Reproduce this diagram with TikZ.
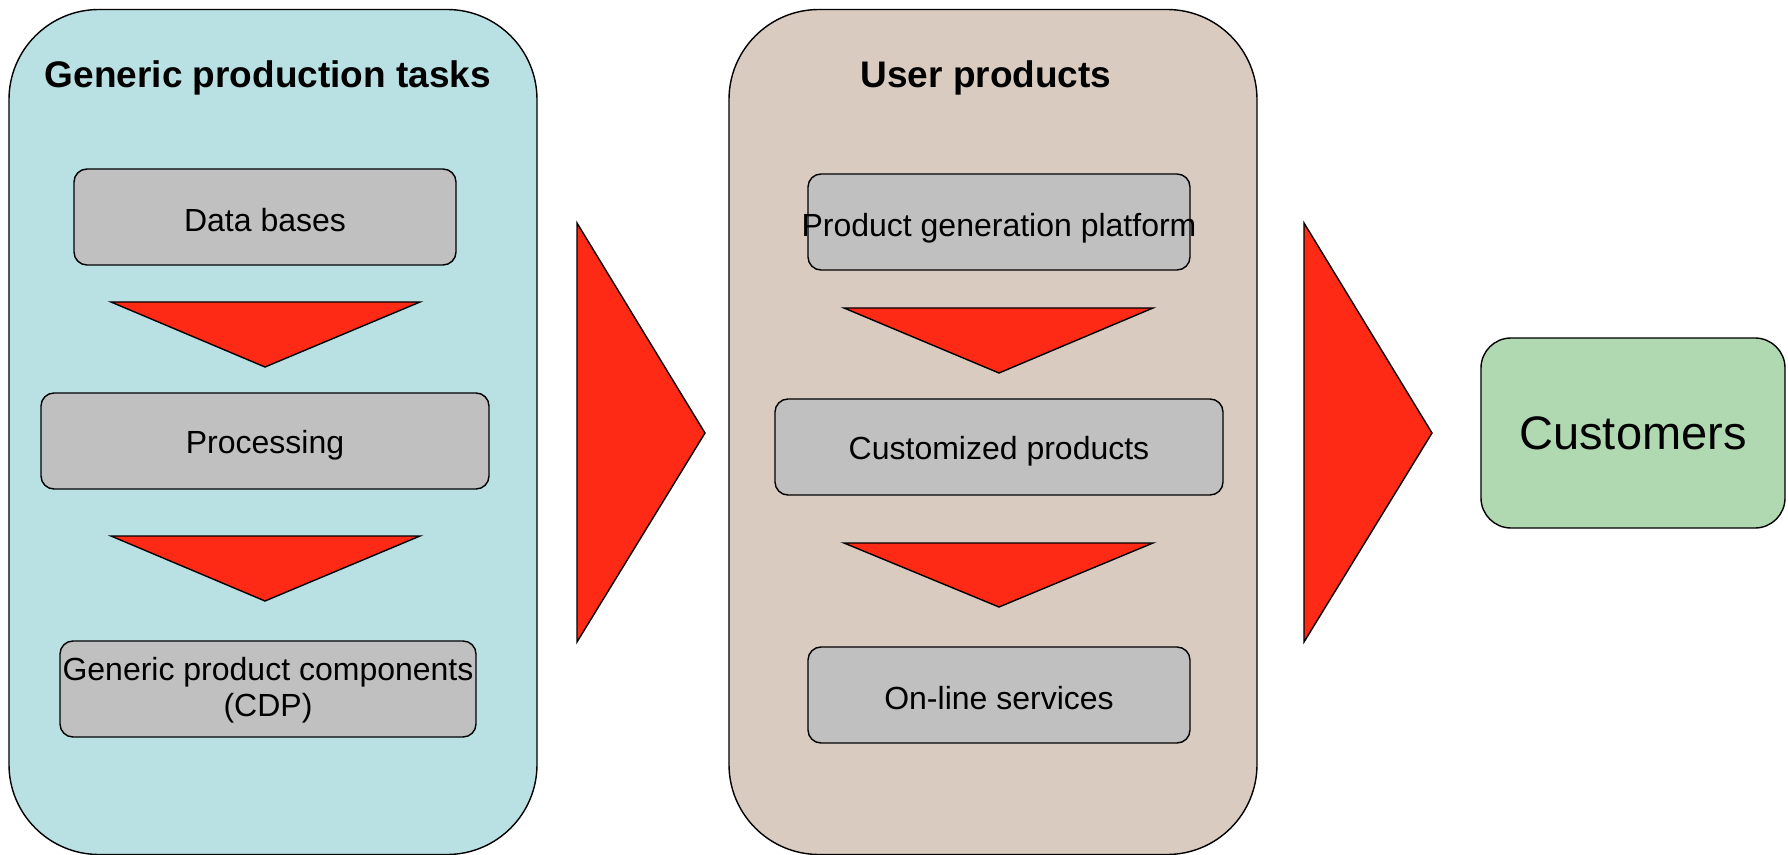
\documentclass[tikz,border=0pt]{standalone}
\usepackage{fontspec}
\setmainfont{Liberation Sans}
\definecolor{panelblue}{RGB}{185,224,227}
\definecolor{panelbrown}{RGB}{217,203,192}
\definecolor{boxgray}{RGB}{192,192,192}
\definecolor{arrowred}{RGB}{255,42,22}
\definecolor{custgreen}{RGB}{176,217,178}
\begin{document}
\begin{tikzpicture}[x=0.5pt,y=-0.5pt,line width=0.7pt,
  panel/.style={draw=black,rounded corners=45pt,minimum width=264pt,minimum height=422.5pt,inner sep=0pt},
  task/.style={draw=black,fill=boxgray,rounded corners=6.5pt,minimum height=48pt,inner sep=0pt,align=center,font=\fontsize{16}{18}\selectfont},
  tasktext/.style={inner sep=0pt,align=center,font=\fontsize{16}{18}\selectfont},
  ptitle/.style={font=\fontsize{18.5}{22}\selectfont\bfseries},
  redshape/.style={draw=black,fill=arrowred,line join=miter}]
\useasboundingbox (0,0) rectangle (1788,855);
% panels
\node[panel,fill=panelblue] (p1) at (273,432) {};
\node[panel,fill=panelbrown] (p2) at (993,432) {};
\node[ptitle] (t1) at (268,78) {Generic production tasks};
\node[ptitle] (t2) at (986,78) {User products};
% left column
\node[task,minimum width=191pt] (db) at (265,217) {};
\node[tasktext] (dbt) at (265,220) {Data bases};
\node[task,minimum width=224pt] (proc) at (265,441) {};
\node[tasktext] (proct) at (265,445) {Processing};
\node[task,minimum width=208pt] (gpc) at (268,689) {};
\node[tasktext] (gpct) at (268,690) {Generic product components\\(CDP)};
\draw[redshape] (111,302) -- (420,302) -- (265,367) -- cycle;
\draw[redshape] (111,536) -- (420,536) -- (265,601) -- cycle;
% middle column
\node[task,minimum width=191pt] (pgp) at (999,222) {};
\node[tasktext] (pgpt) at (999,228) {Product generation platform};
\node[task,minimum width=224pt] (cp) at (999,447) {};
\node[tasktext] (cpt) at (999,451) {Customized products};
\node[task,minimum width=191pt] (ols) at (999,695) {};
\node[tasktext] (olst) at (999,698) {On-line services};
\draw[redshape] (844,308) -- (1153,308) -- (999,373) -- cycle;
\draw[redshape] (844,543) -- (1153,543) -- (999,607) -- cycle;
% big arrows
\draw[redshape] (577,223) -- (705,433) -- (577,642) -- cycle;
\draw[redshape] (1304,223) -- (1432,433) -- (1304,642) -- cycle;
% customers
\node[draw=black,fill=custgreen,rounded corners=15pt,minimum width=152pt,minimum height=95pt,inner sep=0pt,font=\fontsize{23.5}{26}\selectfont] (cust) at (1633,433) {Customers};
\end{tikzpicture}
\end{document}
